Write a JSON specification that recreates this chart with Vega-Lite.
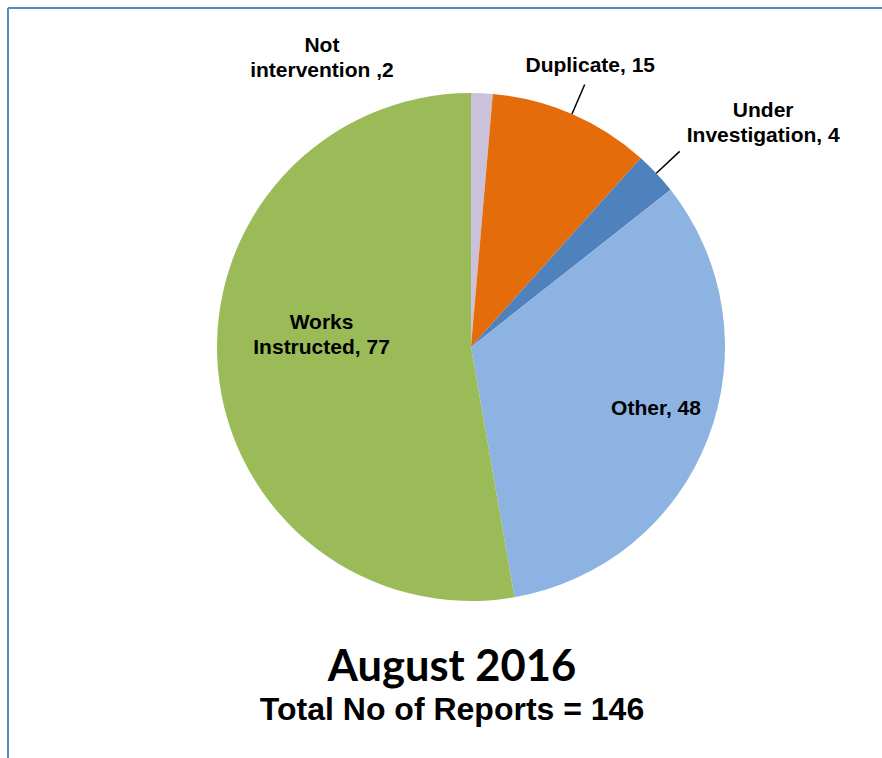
{
  "$schema": "https://vega.github.io/schema/vega-lite/v6.json",
  "autosize": "none",
  "padding": {"left": 8, "top": 8, "right": 0, "bottom": 0},
  "width": 874,
  "height": 750,
  "background": "white",
  "view": {"stroke": "#5A86C4", "strokeWidth": 2, "strokeDash": [874, 1624, 750, 0]},
  "config": {
    "text": {"font": "Liberation Sans", "fontWeight": "bold", "fontSize": 21, "lineHeight": 25, "color": "black", "lineBreak": "\n"}
  },
  "title": {
    "text": "August 2016",
    "subtitle": "Total No of Reports = 146",
    "orient": "bottom",
    "anchor": "middle",
    "frame": "group",
    "offset": -111,
    "dx": 7,
    "font": "Lato",
    "fontSize": 43.5,
    "fontWeight": "bold",
    "color": "black",
    "subtitleFont": "Liberation Sans",
    "subtitleFontSize": 32,
    "subtitleFontWeight": "bold",
    "subtitleColor": "black",
    "subtitlePadding": 4
  },
  "data": {
    "values": [
      {"cat": "Not intervention", "count": 2, "label": "Not\nintervention ,2"},
      {"cat": "Duplicate", "count": 15, "label": "Duplicate, 15"},
      {"cat": "Under Investigation", "count": 4, "label": "Under\nInvestigation, 4"},
      {"cat": "Other", "count": 48, "label": "Other, 48"},
      {"cat": "Works Instructed", "count": 77, "label": "Works\nInstructed, 77"}
    ]
  },
  "transform": [{"window": [{"op": "row_number", "as": "idx"}]}],
  "layer": [
    {
      "mark": {"type": "arc", "radius": 254, "x": 463, "y": 339},
      "encoding": {
        "theta": {"field": "count", "type": "quantitative", "stack": true},
        "order": {"field": "idx", "type": "quantitative"},
        "color": {
          "field": "cat",
          "type": "nominal",
          "scale": {
            "domain": ["Not intervention", "Duplicate", "Under Investigation", "Other", "Works Instructed"],
            "range": ["#CCC1DA", "#E46C0A", "#4F81BD", "#8DB3E2", "#9BBB59"]
          },
          "legend": null
        }
      }
    },
    {
      "transform": [
        {"stack": "count", "groupby": [], "sort": [{"field": "idx", "order": "ascending"}], "as": ["a0", "a1"]},
        {"fold": ["a0", "a1"], "as": ["edge", "v"]},
        {"aggregate": [{"op": "mean", "field": "v", "as": "mid"}], "groupby": ["cat"]},
        {"filter": {"field": "cat", "oneOf": ["Duplicate", "Under Investigation"]}}
      ],
      "mark": {"type": "arc", "radius": 286, "radius2": 254, "x": 463, "y": 339, "stroke": "black", "strokeWidth": 1.5, "fillOpacity": 0},
      "encoding": {
        "theta": {"field": "mid", "type": "quantitative"},
        "theta2": {"field": "mid"}
      }
    },
    {
      "mark": {"type": "text", "x": 463, "y": 339, "radius": 150, "dy": -37, "align": "center", "baseline": "middle"},
      "encoding": {
        "theta": {"field": "count", "type": "quantitative", "stack": true},
        "order": {"field": "idx", "type": "quantitative"},
        "text": {"condition": {"test": "datum.cat === 'Works Instructed'", "field": "label"}, "value": ""}
      }
    },
    {
      "mark": {"type": "text", "x": 463, "y": 339, "radius": 196, "dx": 2, "dy": -8, "align": "center", "baseline": "middle"},
      "encoding": {
        "theta": {"field": "count", "type": "quantitative", "stack": true},
        "order": {"field": "idx", "type": "quantitative"},
        "text": {"condition": {"test": "datum.cat === 'Other'", "field": "label"}, "value": ""}
      }
    },
    {
      "mark": {"type": "text", "x": 463, "y": 339, "radius": 305, "dx": -2, "dy": -1, "align": "center", "baseline": "middle"},
      "encoding": {
        "theta": {"field": "count", "type": "quantitative", "stack": true},
        "order": {"field": "idx", "type": "quantitative"},
        "text": {"condition": {"test": "datum.cat === 'Duplicate'", "field": "label"}, "value": ""}
      }
    },
    {
      "mark": {"type": "text", "x": 463, "y": 339, "radius": 369, "dx": 23, "dy": 16, "align": "center", "baseline": "middle"},
      "encoding": {
        "theta": {"field": "count", "type": "quantitative", "stack": true},
        "order": {"field": "idx", "type": "quantitative"},
        "text": {"condition": {"test": "datum.cat === 'Under Investigation'", "field": "label"}, "value": ""}
      }
    },
    {
      "mark": {"type": "text", "x": 463, "y": 339, "radius": 300, "dx": -162, "dy": -1, "align": "center", "baseline": "middle"},
      "encoding": {
        "theta": {"field": "count", "type": "quantitative", "stack": true},
        "order": {"field": "idx", "type": "quantitative"},
        "text": {"condition": {"test": "datum.cat === 'Not intervention'", "field": "label"}, "value": ""}
      }
    }
  ]
}
